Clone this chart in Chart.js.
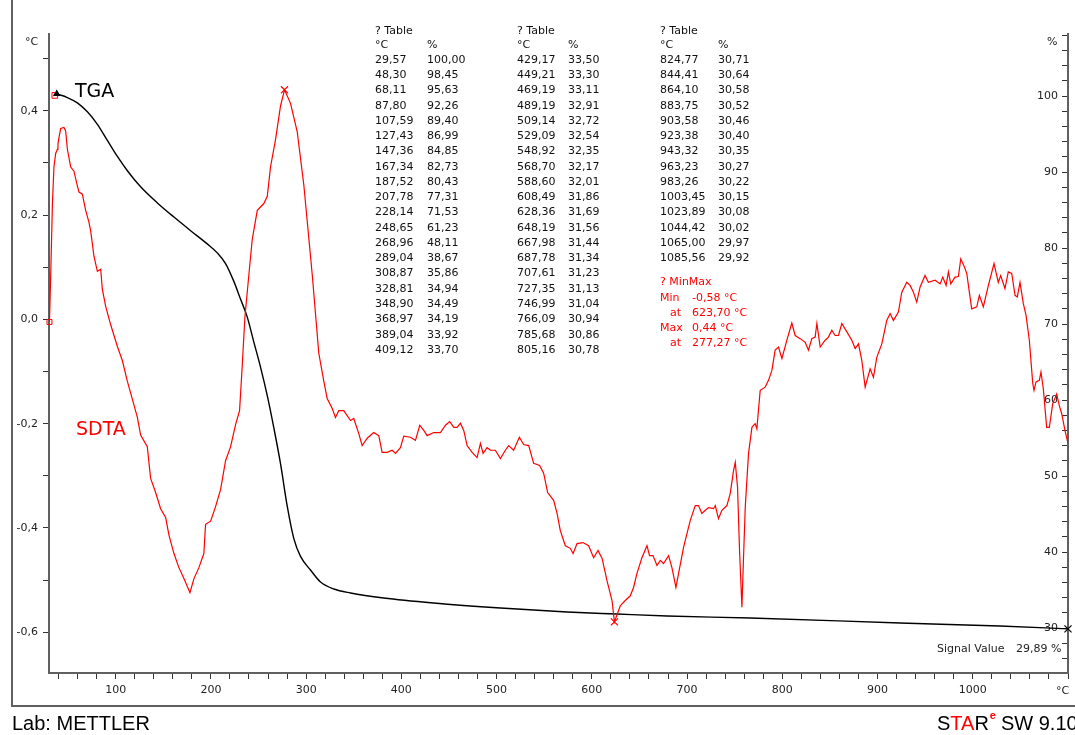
<!DOCTYPE html>
<html>
<head>
<meta charset="utf-8">
<script src="https://cdn.jsdelivr.net/npm/chart.js@4.4.1/dist/chart.umd.min.js"></script>
<style>
  html, body { margin: 0; padding: 0; background: #fff; }
  canvas { display: block; }
</style>
</head>
<body>
<canvas id="tgaChart" width="1075" height="735"></canvas>
<script>
// SDTA signal (°C) against temperature (°C)
var sdtaTemp = [30.5, 31.8, 33.6, 35.2, 37.0, 38.8, 39.4, 40.5, 42.3, 45.7, 47.5, 49.3, 52.8, 56.2, 59.1, 61.5, 65.0, 68.5, 72.0, 73.8,
    77.2, 80.8, 84.3, 86.0, 89.5, 94.7, 101.8, 107.0, 112.3, 117.5, 122.8, 126.2, 133.2, 136.7, 142.0, 147.2, 152.5, 156.0, 161.2, 166.4,
    171.7, 178.0, 182.2, 187.4, 192.6, 194.4, 199.7, 204.9, 210.2, 215.4, 220.7, 225.9, 230.1, 233.0, 235.7, 239.9, 243.4, 248.7, 255.6, 259.2,
    262.6, 267.9, 273.1, 277.3, 283.6, 290.6, 297.6, 306.4, 313.3, 318.6, 322.1, 327.4, 330.8, 334.3, 339.5, 346.6, 350.0, 355.3, 358.8, 364.1,
    371.0, 376.3, 379.8, 385.1, 390.3, 393.8, 399.0, 402.5, 409.5, 414.8, 419.3, 423.5, 427.1, 434.0, 441.0, 446.3, 450.8, 455.0, 458.5, 462.0,
    465.5, 469.0, 474.3, 479.5, 483.0, 485.8, 490.0, 493.5, 498.7, 504.0, 509.2, 512.7, 517.9, 523.9, 528.4, 533.7, 538.9, 545.2, 549.4, 553.6,
    559.9, 563.5, 566.9, 572.2, 577.4, 580.3, 584.5, 590.7, 596.6, 601.9, 606.5, 610.7, 615.9, 621.2, 623.7, 629.9, 635.1, 640.4, 643.8, 647.4,
    652.6, 657.9, 660.6, 664.2, 668.4, 671.9, 675.3, 680.6, 684.1, 688.3, 691.1, 696.3, 703.3, 708.6, 712.0, 715.6, 719.1, 722.5, 727.8, 729.6,
    733.0, 736.6, 741.8, 745.3, 748.8, 750.6, 753.0, 755.1, 757.6, 759.3, 761.1, 764.5, 768.1, 771.5, 773.3, 776.8, 782.0, 785.5, 789.1, 792.5,
    796.0, 799.6, 804.8, 810.0, 813.5, 818.8, 824.0, 827.5, 831.0, 834.5, 836.3, 839.8, 845.0, 848.5, 852.0, 855.5, 859.0, 862.5, 867.8, 873.0,
    876.5, 880.0, 883.5, 887.0, 892.2, 895.7, 899.2, 904.5, 909.7, 913.2, 916.7, 921.9, 925.5, 930.7, 934.2, 937.7, 941.2, 944.7, 949.9, 953.4,
    960.4, 965.7, 968.5, 972.0, 974.4, 976.9, 981.4, 984.9, 987.4, 990.9, 993.7, 997.1, 998.9, 1004.2, 1006.9, 1011.1, 1016.4, 1022.3, 1026.8, 1029.3,
    1033.8, 1037.3, 1040.9, 1044.4, 1046.8, 1049.6, 1053.1, 1055.9, 1059.4, 1063.0, 1064.3, 1066.4, 1069.9, 1071.6, 1074.1, 1077.6, 1080.4, 1083.9, 1088.1, 1090.8,
    1093.4, 1096.8, 1100.0];
var sdtaValue = [-0.005, 0.086, 0.222, 0.292, 0.318, 0.326, 0.336, 0.349, 0.366, 0.368, 0.361, 0.326, 0.292, 0.284, 0.261, 0.244, 0.240, 0.209, 0.186, 0.169,
    0.121, 0.092, 0.096, 0.058, 0.025, -0.010, -0.052, -0.079, -0.119, -0.153, -0.188, -0.222, -0.244, -0.305, -0.332, -0.363, -0.380, -0.414, -0.449, -0.476,
    -0.497, -0.524, -0.497, -0.476, -0.449, -0.393, -0.387, -0.359, -0.326, -0.271, -0.244, -0.202, -0.175, -0.086, 0.004, 0.086, 0.153, 0.209, 0.222, 0.236,
    0.292, 0.345, 0.409, 0.440, 0.414, 0.360, 0.257, 0.086, -0.065, -0.119, -0.152, -0.171, -0.188, -0.175, -0.175, -0.194, -0.190, -0.219, -0.242, -0.228,
    -0.217, -0.223, -0.255, -0.255, -0.251, -0.257, -0.246, -0.224, -0.226, -0.232, -0.203, -0.213, -0.223, -0.217, -0.217, -0.203, -0.196, -0.207, -0.207, -0.199,
    -0.213, -0.242, -0.255, -0.265, -0.238, -0.257, -0.246, -0.251, -0.251, -0.267, -0.251, -0.242, -0.251, -0.226, -0.240, -0.242, -0.276, -0.280, -0.295, -0.332,
    -0.347, -0.372, -0.405, -0.434, -0.439, -0.449, -0.430, -0.428, -0.434, -0.457, -0.443, -0.458, -0.501, -0.539, -0.580, -0.549, -0.539, -0.530, -0.514, -0.487,
    -0.457, -0.434, -0.453, -0.453, -0.472, -0.462, -0.468, -0.453, -0.476, -0.514, -0.487, -0.437, -0.386, -0.357, -0.357, -0.372, -0.366, -0.361, -0.363, -0.357,
    -0.382, -0.366, -0.357, -0.334, -0.290, -0.274, -0.322, -0.443, -0.552, -0.456, -0.360, -0.258, -0.207, -0.200, -0.210, -0.136, -0.130, -0.117, -0.098, -0.059,
    -0.053, -0.075, -0.040, -0.007, -0.031, -0.037, -0.044, -0.059, -0.037, -0.034, -0.008, -0.053, -0.040, -0.034, -0.021, -0.031, -0.031, -0.008, -0.024, -0.040,
    -0.056, -0.047, -0.079, -0.130, -0.095, -0.111, -0.073, -0.047, -0.002, 0.011, -0.002, 0.014, 0.052, 0.071, 0.065, 0.052, 0.033, 0.062, 0.084, 0.071,
    0.075, 0.068, 0.081, 0.065, 0.091, 0.068, 0.081, 0.082, 0.116, 0.102, 0.088, 0.043, 0.020, 0.024, 0.046, 0.024, 0.065, 0.107, 0.071, 0.084,
    0.059, 0.091, 0.088, 0.046, 0.043, 0.071, 0.030, 0.008, -0.040, -0.123, -0.136, -0.120, -0.117, -0.101, -0.133, -0.207, -0.207, -0.162, -0.143, -0.165,
    -0.181, -0.213, -0.238];

// TGA mass (%) against temperature (°C)
var tgaTemp = [38.1, 49.3, 59.8, 70.3, 80.8, 91.3, 101.8, 112.3, 126.2, 143.8, 161.2, 178.7, 196.2, 206.7, 215.4, 224.1, 231.2, 238.2, 245.1, 252.1,
    259.2, 266.1, 273.1, 280.2, 287.1, 294.1, 304.6, 315.1, 329.1, 346.6, 381.5, 434.0, 504.0, 574.0, 626.4, 678.9, 766.3, 923.7, 1028.6, 1100];
var tgaMass = [100.28, 99.80, 99.09, 97.92, 96.28, 94.16, 92.05, 90.17, 88.05, 85.93, 84.07, 82.28, 80.54, 79.36, 77.95, 75.61, 73.25, 70.91, 67.62, 64.33,
    60.57, 56.33, 51.63, 46.00, 41.76, 39.42, 37.63, 36.05, 35.13, 34.61, 33.95, 33.29, 32.63, 32.11, 31.84, 31.58, 31.32, 30.66, 30.26, 29.89];

// "? Table" text block
var tableTemp = [29.57, 48.30, 68.11, 87.80, 107.59, 127.43, 147.36, 167.34, 187.52, 207.78, 228.14, 248.65, 268.96, 289.04, 308.87, 328.81, 348.90, 368.97, 389.04, 409.12,
    429.17, 449.21, 469.19, 489.19, 509.14, 529.09, 548.92, 568.70, 588.60, 608.49, 628.36, 648.19, 667.98, 687.78, 707.61, 727.35, 746.99, 766.09, 785.68, 805.16,
    824.77, 844.41, 864.10, 883.75, 903.58, 923.38, 943.32, 963.23, 983.26, 1003.45, 1023.89, 1044.42, 1065.00, 1085.56];
var tableMass = [100.00, 98.45, 95.63, 92.26, 89.40, 86.99, 84.85, 82.73, 80.43, 77.31, 71.53, 61.23, 48.11, 38.67, 35.86, 34.94, 34.49, 34.19, 33.92, 33.70,
    33.50, 33.30, 33.11, 32.91, 32.72, 32.54, 32.35, 32.17, 32.01, 31.86, 31.69, 31.56, 31.44, 31.34, 31.23, 31.13, 31.04, 30.94, 30.86, 30.78,
    30.71, 30.64, 30.58, 30.52, 30.46, 30.40, 30.35, 30.27, 30.22, 30.15, 30.08, 30.02, 29.97, 29.92];

var minPoint = [623.70, -0.58];
var maxPoint = [277.27, 0.44];
var signalValue = 29.89;

var FONT = '"DejaVu Sans", Verdana, sans-serif';
var RED = '#ff0000';

function comma(v, d) {
    return v.toFixed(d).replace('.', ',');
}

function xy(xs, ys) {
    var out = [];
    for (var i = 0; i < xs.length; i++) {
        out.push({x: xs[i], y: ys[i]});
    }
    return out;
}

var textPlugin = {
    id: 'mettlerText',
    afterDraw: function (chart) {
        var ctx = chart.ctx;
        ctx.save();
        ctx.textBaseline = 'middle';

        // outer frame
        ctx.strokeStyle = '#606060';
        ctx.lineWidth = 2;
        ctx.beginPath();
        ctx.moveTo(12, 0);
        ctx.lineTo(12, 706);
        ctx.lineTo(1075, 706);
        ctx.stroke();

        ctx.font = '11px ' + FONT;
        ctx.fillStyle = '#222';
        ctx.textAlign = 'left';
        ctx.fillText('°C', 25, 42);
        ctx.fillText('%', 1047, 42);
        ctx.fillText('°C', 1056, 691);

        // tables
        var colT = [375, 517, 660];
        var colP = [427, 568, 718];
        ctx.fillStyle = '#111';
        for (var c = 0; c < 3; c++) {
            ctx.fillText('? Table', colT[c], 31);
            ctx.fillText('°C', colT[c], 45);
            ctx.fillText('%', colP[c], 45);
        }
        for (var i = 0; i < tableTemp.length; i++) {
            var col = Math.floor(i / 20);
            var row = i % 20;
            var y = 60 + row * 15.26;
            ctx.fillText(comma(tableTemp[i], 2), colT[col], y);
            ctx.fillText(comma(tableMass[i], 2), colP[col], y);
        }

        // min / max block
        ctx.fillStyle = RED;
        ctx.fillText('? MinMax', 660, 282);
        ctx.fillText('Min', 660, 298);
        ctx.fillText(comma(minPoint[1], 2) + ' °C', 692, 298);
        ctx.fillText('at', 670, 313);
        ctx.fillText(comma(minPoint[0], 2) + ' °C', 692, 313);
        ctx.fillText('Max', 660, 328);
        ctx.fillText(comma(maxPoint[1], 2) + ' °C', 692, 328);
        ctx.fillText('at', 670, 343);
        ctx.fillText(comma(maxPoint[0], 2) + ' °C', 692, 343);

        ctx.fillStyle = '#222';
        ctx.fillText('Signal Value', 937, 649);
        ctx.fillText(comma(signalValue, 2) + ' %', 1016, 649);

        // curve names
        ctx.font = '19px ' + FONT;
        ctx.fillStyle = '#000';
        ctx.fillText('TGA', 75, 92);
        ctx.fillStyle = RED;
        ctx.fillText('SDTA', 76, 430);

        // footer
        ctx.font = '20px "Liberation Sans", Arial, sans-serif';
        ctx.fillStyle = '#000';
        ctx.fillText('Lab: METTLER', 12, 724);
        var x = 937;
        var parts = [['S', '#000'], ['TA', RED], ['R', '#000']];
        for (var p = 0; p < parts.length; p++) {
            ctx.fillStyle = parts[p][1];
            ctx.fillText(parts[p][0], x, 724);
            x += ctx.measureText(parts[p][0]).width;
        }
        ctx.font = 'bold 11px "Liberation Sans", Arial, sans-serif';
        ctx.fillStyle = RED;
        ctx.fillText('e', x + 1, 716);
        x += ctx.measureText('e').width + 6;
        ctx.font = '20px "Liberation Sans", Arial, sans-serif';
        ctx.fillStyle = '#000';
        ctx.fillText('SW 9.10', x, 724);
        ctx.restore();
    }
};

var axisGrey = '#606060';

var ctx = document.getElementById('tgaChart').getContext('2d');
var chart = new Chart(ctx, {
    type: 'line',
    data: {
        datasets: [{
            label: 'SDTA',
            data: xy(sdtaTemp, sdtaValue),
            yAxisID: 'yL',
            borderColor: RED,
            borderWidth: 1.2,
            pointRadius: 0,
            tension: 0
        }, {
            label: 'TGA',
            data: xy(tgaTemp, tgaMass),
            yAxisID: 'yR',
            borderColor: '#000',
            borderWidth: 1.4,
            cubicInterpolationMode: 'monotone',
            pointStyle: 'triangle',
            pointRadius: function (c) { return c.dataIndex === 0 ? 3 : 0; },
            pointBackgroundColor: '#000',
            pointBorderColor: '#000'
        }, {
            label: 'MinMax',
            type: 'scatter',
            data: [{x: minPoint[0], y: minPoint[1]}, {x: maxPoint[0], y: maxPoint[1]}],
            yAxisID: 'yL',
            pointStyle: 'crossRot',
            pointRadius: 5,
            borderColor: RED,
            borderWidth: 1.2
        }, {
            label: 'start',
            type: 'scatter',
            data: [{x: sdtaTemp[0], y: sdtaValue[0]}],
            yAxisID: 'yL',
            pointStyle: 'rect',
            pointRadius: 3.5,
            borderColor: RED,
            backgroundColor: 'rgba(0,0,0,0)',
            borderWidth: 1,
            clip: false
        }, {
            label: 'tgaStart',
            type: 'scatter',
            data: [{x: tgaTemp[0] - 2, y: tgaMass[0] - 0.2}],
            yAxisID: 'yR',
            pointStyle: 'rect',
            pointRadius: 4,
            borderColor: RED,
            backgroundColor: 'rgba(0,0,0,0)',
            borderWidth: 1,
            borderDash: [2, 2],
            clip: false
        }, {
            label: 'signal',
            type: 'scatter',
            data: [{x: 1100, y: signalValue}],
            yAxisID: 'yR',
            pointStyle: 'crossRot',
            pointRadius: 5,
            borderColor: '#000',
            borderWidth: 1.2,
            clip: false
        }]
    },
    options: {
        responsive: false,
        animation: false,
        devicePixelRatio: 1,
        layout: {padding: {top: 34, left: 0, right: 0, bottom: 32}},
        plugins: {legend: {display: false}, tooltip: {enabled: false}},
        scales: {
            x: {
                type: 'linear',
                position: 'bottom',
                min: 30,
                max: 1100,
                afterFit: function (s) { s.height = 30; },
                border: {display: true, color: axisGrey, width: 2},
                grid: {drawOnChartArea: false, drawTicks: true, tickLength: 6, color: '#333'},
                ticks: {
                    stepSize: 20,
                    includeBounds: false,
                    autoSkip: false,
                    maxRotation: 0,
                    padding: 5,
                    color: '#222',
                    font: {family: FONT, size: 11},
                    callback: function (v) { return (v % 100 === 0 && v < 1100) ? String(v) : ''; }
                }
            },
            yL: {
                type: 'linear',
                position: 'left',
                min: -0.678,
                max: 0.547,
                afterFit: function (s) { s.width = 49; },
                border: {display: true, color: axisGrey, width: 2},
                grid: {drawOnChartArea: false, drawTicks: true, tickLength: 6, color: '#333'},
                ticks: {
                    stepSize: 0.1,
                    includeBounds: false,
                    autoSkip: false,
                    padding: 5,
                    color: '#222',
                    font: {family: FONT, size: 11},
                    callback: function (v) {
                        var k = Math.round(v * 10);
                        return k % 2 === 0 ? comma(k / 10, 1) : '';
                    }
                }
            },
            yR: {
                type: 'linear',
                position: 'right',
                min: 24.08,
                max: 108.16,
                afterFit: function (s) { s.width = 7; },
                border: {display: true, color: axisGrey, width: 2},
                grid: {drawOnChartArea: false, drawTicks: true, tickLength: -6, color: '#333'},
                ticks: {
                    stepSize: 2,
                    includeBounds: false,
                    autoSkip: false,
                    mirror: true,
                    padding: -10,
                    color: '#222',
                    font: {family: FONT, size: 11},
                    callback: function (v) {
                        var k = Math.round(v);
                        return (k % 10 === 0 && k <= 100) ? String(k) : '';
                    }
                }
            }
        }
    },
    plugins: [textPlugin]
});
</script>
</body>
</html>
